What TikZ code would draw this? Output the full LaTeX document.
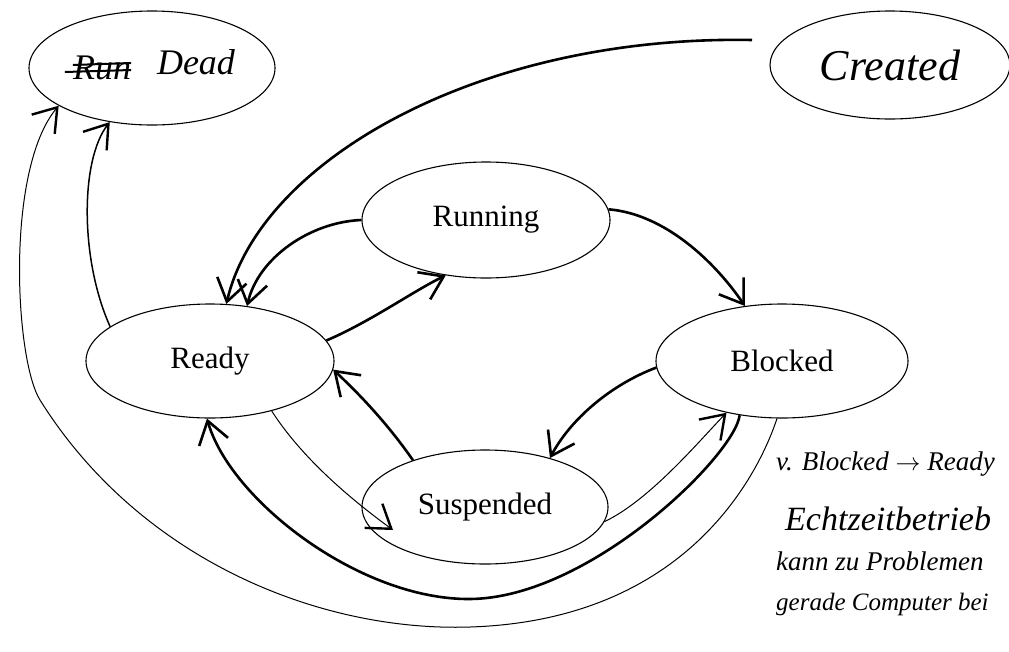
\documentclass[tikz,border=0pt]{standalone}
\usepackage{fontspec}
\setmainfont{Liberation Serif}
\usetikzlibrary{shapes.geometric,arrows.meta}

\begin{document}
\begin{tikzpicture}[x=1pt,y=-1pt,
    state/.style={ellipse,draw,line width=1.1pt,inner sep=0pt,font=\fontsize{31}{32}\selectfont},
    hand/.style={ellipse,draw,line width=1.1pt,inner sep=0pt},
    htxt/.style={inner sep=0pt,font=\fontsize{36}{38}\selectfont\itshape},
    note/.style={inner sep=0pt,anchor=base west,font=\fontsize{27}{29}\selectfont\itshape},
    strong/.style={line width=2.6pt,-{Straight Barb[length=22pt,width=30pt]}},
    faint/.style={line width=1pt,-{Straight Barb[length=22pt,width=30pt,line width=2.4pt]}}]

\useasboundingbox (0,0) rectangle (1009,651);
\clip (0,0) rectangle (1009,651);

% states
\node[state,minimum width=248pt,minimum height=116pt] (running) at (486,220) {Running};
\node[state,minimum width=248pt,minimum height=114pt] (ready) at (210,361) {Ready};
\node[state,minimum width=252pt,minimum height=114pt] (blocked) at (782,361) {Blocked};
\node[state,minimum width=246pt,minimum height=114pt] (suspended) at (485,507) {Suspended};

% handwritten ones
\node[hand,minimum width=246pt,minimum height=114pt] (dead) at (152,68) {};
\node[htxt] (runx) at (102,68) {Run};
\node[htxt] (deadtxt) at (196,62) {Dead};
\draw[line width=2pt] ([xshift=-8pt,yshift=-4pt]runx.west) -- ([yshift=-2pt]runx.east);
\draw[line width=2pt] ([yshift=3pt]runx.west) -- ([yshift=5pt]runx.east);

\node[hand,minimum width=240pt,minimum height=108pt,font=\fontsize{44}{46}\selectfont\itshape] (created) at (890,65) {Created};
\coordinate (cstart) at (752,40);

% transitions
\draw[strong] (cstart) .. controls (480,35) and (260,160) .. (ready.74);
\draw[strong] (running.west) .. controls (310,222) and (258,258) .. (ready.56);
\draw[strong] (ready.10) .. controls (370,322) and (415,290) .. (running.234);
\draw[strong] (running.5) .. controls (665,214) and (715,262) .. (blocked.124);
\draw[strong] (blocked.183) .. controls (610,385) and (570,420) .. (suspended.37);
\draw[strong] (suspended.147) .. controls (385,420) and (355,390) .. (ready.-4);
\draw[faint] (ready.-39) .. controls (300,455) and (345,495) .. ([shift={(-92,23)}]suspended.center);
\draw[faint] (suspended.-7) .. controls (650,500) and (700,440) .. (blocked.223);
\draw[strong] (blocked.232) .. controls (735,455) and (590,598) .. (470,599)
    .. controls (360,600) and (230,500) .. (ready.-93);

% to dead
\draw[faint] (blocked.265) .. controls (760,470) and (690,620) .. (470,627)
    .. controls (320,632) and (140,560) .. (40,400)
    .. controls (15,360) and (5,170) .. (dead.202);
\draw[faint,line width=1.5pt] (ready.161) .. controls (80,260) and (80,160) .. (dead.232);

% side note
\node[note] (n1) at (776,470) {v. Blocked $\rightarrow$ Ready};
\node[note,font=\fontsize{34}{36}\selectfont\itshape] (n2) at (785,530) {Echtzeitbetrieb};
\node[note] (n3) at (776,570) {kann zu Problemen};
\node[note,font=\fontsize{25}{27}\selectfont\itshape] (n4) at (776,610) {gerade Computer bei};

\end{tikzpicture}
\end{document}
